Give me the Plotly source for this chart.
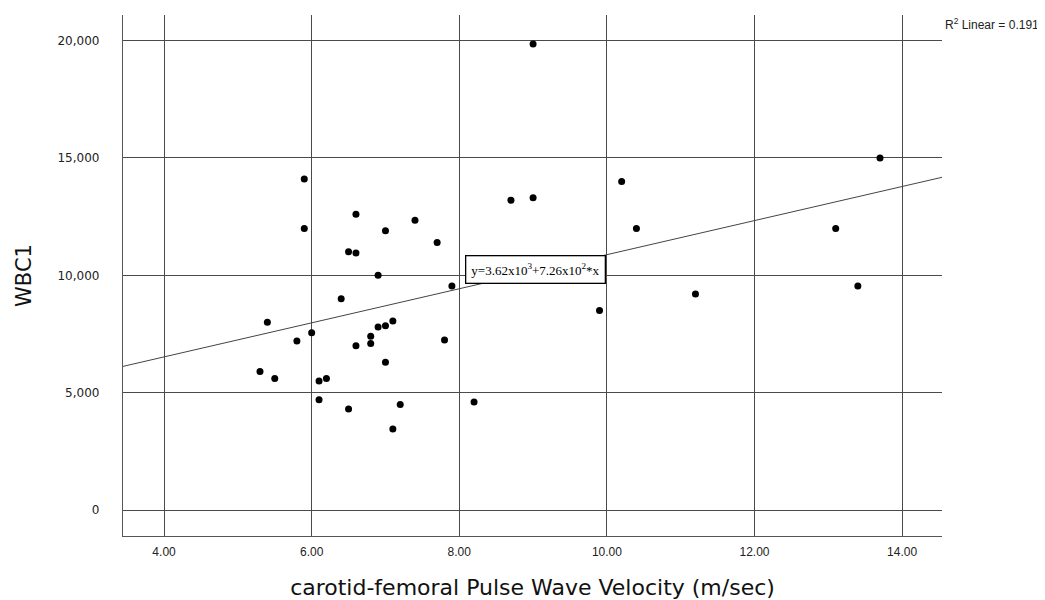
import plotly.graph_objects as go

pwv = [5.3, 5.4, 5.5, 5.8, 5.9, 5.9, 6.0, 6.1, 6.1, 6.2, 6.4, 6.5, 6.5, 6.6, 6.6, 6.6,
       6.8, 6.8, 6.9, 6.9, 7.0, 7.0, 7.0, 7.1, 7.1, 7.2, 7.4, 7.7, 7.8, 7.9, 8.2,
       8.7, 9.0, 9.0, 9.9, 10.2, 10.4, 11.2, 13.1, 13.4, 13.7]
wbc = [5900, 8000, 5600, 7200, 14100, 12000, 7550, 5500, 4700, 5600, 9000, 11000, 4300,
       12600, 10950, 7000, 7400, 7100, 10000, 7800, 11900, 7850, 6300, 8050, 3450, 4500,
       12350, 11400, 7250, 9550, 4600, 13200, 13300, 19850, 8500, 14000, 12000, 9200,
       12000, 9550, 15000]

intercept = 3620.0
slope = 726.0
r2 = 0.191

x_ticks = [4, 6, 8, 10, 12, 14]
x_tick_labels = ["4.00", "6.00", "8.00", "10.00", "12.00", "14.00"]
y_ticks = [0, 5000, 10000, 15000, 20000]
y_tick_labels = ["0", "5,000", "10,000", "15,000", "20,000"]

x_range = [3.444, 14.54]
y_range = [-1105, 21090]

fig = go.Figure()

fig.add_trace(go.Scatter(
    x=x_range,
    y=[intercept + slope * v for v in x_range],
    mode="lines",
    line=dict(color="#444444", width=1),
    hoverinfo="skip",
    showlegend=False,
))

fig.add_trace(go.Scatter(
    x=pwv, y=wbc, mode="markers",
    marker=dict(color="black", size=7, line=dict(width=0)),
    showlegend=False,
))

grid_color = "#4a4a4a"
fig.update_layout(
    width=1037, height=592,
    margin=dict(l=115, r=103, t=7, b=64),
    paper_bgcolor="white",
    plot_bgcolor="white",
    showlegend=False,
    xaxis=dict(
        range=x_range, automargin=False,
        tickvals=x_ticks, ticktext=x_tick_labels,
        showgrid=True, gridcolor=grid_color, gridwidth=1.3,
        zeroline=False,
        showline=True, linecolor="#555555", linewidth=1.3,
        ticks="", ticklabelstandoff=4,
        tickfont=dict(family="Liberation Sans, Arial", size=12, color="#222222"),
        title=dict(text="carotid-femoral Pulse Wave Velocity (m/sec)",
                   font=dict(family="DejaVu Sans", size=22, color="#111111"),
                   standoff=24),
    ),
    yaxis=dict(
        range=y_range, automargin=False,
        tickvals=y_ticks, ticktext=y_tick_labels,
        showgrid=True, gridcolor=grid_color, gridwidth=1.3,
        zeroline=False,
        showline=True, linecolor="#555555", linewidth=1.3,
        ticks="", ticklabelstandoff=20,
        tickfont=dict(family="DejaVu Sans", size=12, color="#222222"),
        title=dict(text="WBC1",
                   font=dict(family="DejaVu Sans", size=21, color="#111111"),
                   standoff=20),
    ),
    annotations=[
        dict(
            xref="paper", yref="paper", x=0.5039, y=0.512,
            xanchor="center", yanchor="middle",
            text="y=3.62x10<sup>3</sup>+7.26x10<sup>2</sup>*x",
            showarrow=False,
            font=dict(family="Liberation Serif, Times New Roman", size=13, color="black"),
            bgcolor="white", bordercolor="black", borderwidth=1.3, borderpad=5,
        ),
        dict(
            xref="paper", yref="paper", x=1.001, y=0.983,
            xanchor="left", yanchor="middle",
            text="R<sup>2</sup> Linear = %.3f" % r2,
            showarrow=False,
            font=dict(family="Liberation Sans, Arial", size=12, color="#222222"),
        ),
    ],
)

fig.write_html("out.html")
